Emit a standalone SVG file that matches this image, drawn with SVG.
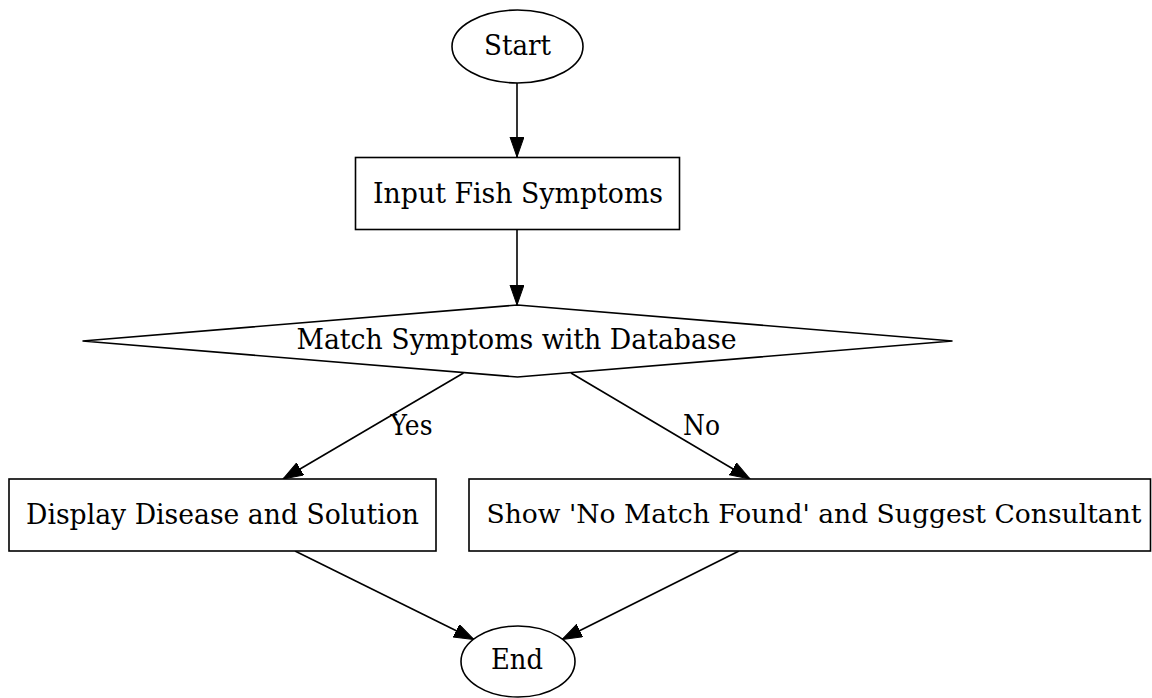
<svg xmlns="http://www.w3.org/2000/svg" width="1152" height="698" viewBox="0 0 1152 698">
  <defs>
    <marker id="arrow" markerUnits="userSpaceOnUse" markerWidth="21" markerHeight="15" refX="20" refY="7" orient="auto">
      <path d="M0,0 L20,7 L0,14 Z" fill="#000" stroke="#000" stroke-width="1"/>
    </marker>
    <style>
      .shape { fill: #fff; stroke: #000; stroke-width: 1.6; }
      .lbl { font-family: "DejaVu Serif", "Liberation Serif", serif; font-size: 28px; fill: #000; text-anchor: middle; }
      .edge { fill: none; stroke: #000; stroke-width: 1.6; marker-end: url(#arrow); }
    </style>
  </defs>
  <rect x="0" y="0" width="1152" height="698" fill="#fff"/>

  <g id="connectors">
    <path class="edge" d="M517,83 L517,157"/>
    <path class="edge" d="M517,229 L517,305"/>
    <path class="edge" d="M463.5,373 L283,479"/>
    <path class="edge" d="M571,373 L750,479"/>
    <path class="edge" d="M295,551 L474,639.5"/>
    <path class="edge" d="M739,551 L562,639.5"/>
    <text class="lbl" x="411.5" y="435" textLength="42" lengthAdjust="spacingAndGlyphs">Yes</text>
    <text class="lbl" x="701.5" y="435" textLength="37" lengthAdjust="spacingAndGlyphs">No</text>
  </g>

  <g id="start">
    <ellipse class="shape" cx="517.5" cy="46.5" rx="65.5" ry="36.5"/>
    <text class="lbl" x="517.5" y="54.5" textLength="67" lengthAdjust="spacingAndGlyphs">Start</text>
  </g>

  <g id="input">
    <rect class="shape" x="355.5" y="157.5" width="324" height="72"/>
    <text class="lbl" x="518" y="202.5" textLength="290" lengthAdjust="spacingAndGlyphs">Input Fish Symptoms</text>
  </g>

  <g id="match">
    <polygon class="shape" points="517.5,305 952.5,341 517.5,377 82.5,341"/>
    <text class="lbl" x="516.5" y="348.5" textLength="440" lengthAdjust="spacingAndGlyphs">Match Symptoms with Database</text>
  </g>

  <g id="display">
    <rect class="shape" x="9" y="479" width="427" height="72"/>
    <text class="lbl" x="222.5" y="523.5" textLength="393" lengthAdjust="spacingAndGlyphs">Display Disease and Solution</text>
  </g>

  <g id="nomatch">
    <rect class="shape" x="469" y="479" width="681.5" height="72"/>
    <text class="lbl" x="814" y="523" style="font-size:25.5px" textLength="655" lengthAdjust="spacingAndGlyphs">Show 'No Match Found' and Suggest Consultant</text>
  </g>

  <g id="end">
    <ellipse class="shape" cx="518" cy="661.5" rx="57" ry="35.5"/>
    <text class="lbl" x="517" y="669" textLength="52" lengthAdjust="spacingAndGlyphs">End</text>
  </g>
</svg>
